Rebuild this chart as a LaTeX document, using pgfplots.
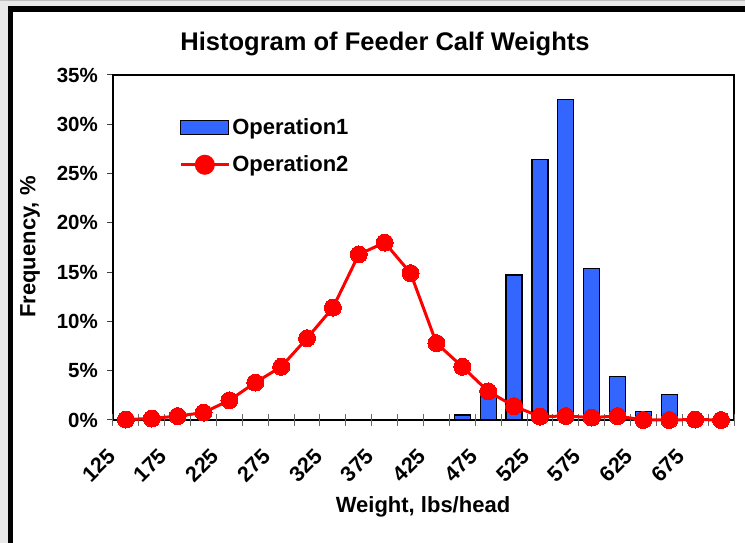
\documentclass[border=0pt]{standalone}
\usepackage{fontspec}
\setmainfont{Liberation Sans}
\usepackage{pgfplots}
\pgfplotsset{compat=1.18}
\pgfdeclarelayer{bg}
\pgfsetlayers{bg,main}
\definecolor{opblue}{RGB}{51,102,255}
\definecolor{panelgrey}{RGB}{232,232,232}

\begin{document}
\begin{tikzpicture}[x=1pt,y=1pt]
\begin{axis}[
  name=ax, at={(0pt,0pt)}, anchor=south west,
  scale only axis, width=621pt, height=345pt,
  xmin=-0.5, xmax=23.5, ymin=0, ymax=35,
  clip=false,
  axis line style={line width=2.5pt},
  xtick={0,2,...,22},
  xticklabels={125,175,225,275,325,375,425,475,525,575,625,675},
  xtick style={draw=none},
  ytick={0,5,...,35},
  yticklabels={0\%,5\%,10\%,15\%,20\%,25\%,30\%,35\%},
  ytick pos=left, tick align=outside, major tick length=6pt,
  ytick style={black!75, line width=1pt},
  tick label style={font=\bfseries\fontsize{20.5}{24}\selectfont},
  xticklabel style={inner sep=0pt, anchor=north east, xshift=-20pt, yshift=-21pt, rotate=45,
    font=\bfseries\fontsize{21.5}{24}\selectfont},
  yticklabel style={inner sep=0pt, xshift=-9pt},
  legend style={draw=none, fill=none, at={(0.1065,0.88)}, anchor=north west,
    inner sep=0pt, row sep=16pt, font=\bfseries\fontsize{22}{26}\selectfont},
  legend cell align=left,
]
\pgfplotsinvokeforeach{-0.5,0.5,...,23.5}{
  \draw[black!60, line width=1pt] ([yshift=-6pt]axis cs:#1,0) -- ([yshift=6pt]axis cs:#1,0);
}

\addplot[ybar, bar width=16pt, fill=opblue, draw=black, line width=1.2pt,
  legend image code/.code={\draw[fill=opblue, draw=black, line width=1.2pt] (0pt,-7pt) rectangle (48pt,7pt);}]
  coordinates {(13,0.5)(14,3.0)(15,14.7)(16,26.4)(17,32.5)(18,15.4)(19,4.4)(20,0.9)(21,2.6)};
\addlegendentry{Operation1}

\addplot[red, line width=3pt, mark=*, mark size=8.5pt,
  mark options={solid, fill=red, draw=red, line width=0pt},
  legend image code/.code={\draw[red, line width=3pt] (0pt,0pt) -- (48pt,0pt); \fill[red] (24pt,0pt) circle (8.5pt);}]
  coordinates {(0,0.05)(1,0.15)(2,0.4)(3,0.75)(4,2.0)(5,3.8)(6,5.4)(7,8.3)
    (8,11.4)(9,16.8)(10,18.0)(11,14.9)(12,7.8)(13,5.4)(14,2.9)(15,1.4)
    (16,0.35)(17,0.4)(18,0.25)(19,0.4)(20,0)(21,0)(22,0.05)(23,0)};
\addlegendentry{Operation2}
\end{axis}

% page frame, title and axis names, all relative to the plot box corner
\begin{scope}[shift={(ax.south west)}, xshift=-113pt, yshift=-123pt]
  \begin{pgfonlayer}{bg}
    \fill[panelgrey] (0,0) rectangle (745,543);
    \draw[black!25, line width=1.5pt] (0,542.3) -- (745,542.3);
    \begin{scope}
      \clip (0,0) rectangle (745,543);
      \draw[black, fill=white, line width=5.5pt] (10.5,-20) rectangle (780,534);
    \end{scope}
  \end{pgfonlayer}
  \node[font=\bfseries\fontsize{25.5}{29}\selectfont] at (385,499) {Histogram of Feeder Calf Weights};
  \node[font=\bfseries\fontsize{22}{26}\selectfont] at (423,36) {Weight, lbs/head};
  \node[rotate=90, font=\bfseries\fontsize{22}{26}\selectfont] at (30,296) {Frequency, \%};
  \pgfresetboundingbox
  \useasboundingbox (0,0) rectangle (745,543);
\end{scope}
\end{tikzpicture}
\end{document}
